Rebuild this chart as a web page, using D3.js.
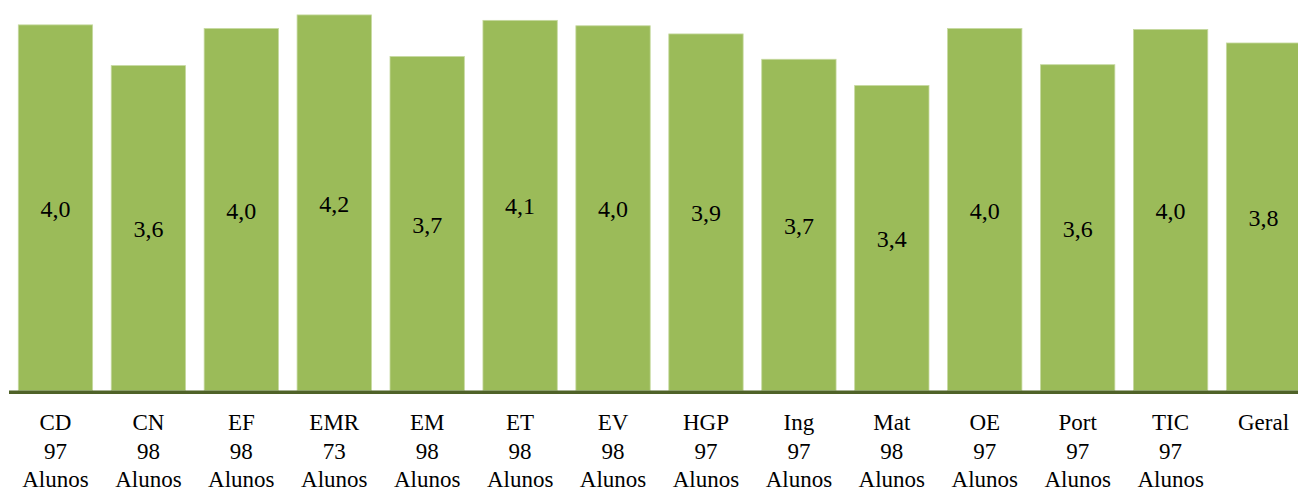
<!DOCTYPE html>
<html lang="pt">
<head>
<meta charset="utf-8">
<title>Média por disciplina</title>
<script src="https://d3js.org/d3.v7.min.js"></script>
<style>
  body { margin: 0; background: #fff; }
  svg text { font-family: "Liberation Serif", "Times New Roman", serif; fill: #000; }
</style>
</head>
<body>
<svg id="chart" width="1298" height="491"></svg>
<script>
// disciplinas
var categories = ["CD", "CN", "EF", "EMR", "EM", "ET", "EV", "HGP", "Ing", "Mat", "OE", "Port", "TIC", "Geral"];
// média (estimada a partir da altura das barras)
var values = [4.04, 3.59, 4.00, 4.15, 3.69, 4.09, 4.03, 3.94, 3.66, 3.37, 4.00, 3.60, 3.99, 3.84];
// número de alunos
var alunos = [97, 98, 98, 73, 98, 98, 98, 97, 97, 98, 97, 97, 97, null];

var svg = d3.select("#chart");

var baseY = 390.5;

var x = d3.scaleBand()
    .domain(categories)
    .range([9, 1310])
    .paddingInner(0.2)
    .paddingOuter(0.1);

var y = d3.scaleLinear()
    .domain([0, 4.3])
    .range([baseY, baseY - 4.3 * 90.5]);

var fmt = function(v) { return d3.format(".1f")(v).replace(".", ","); };

// barras
svg.selectAll("rect.bar")
    .data(values)
    .enter()
    .append("rect")
    .attr("class", "bar")
    .attr("x", function(d, i) { return x(categories[i]); })
    .attr("y", function(d) { return y(d); })
    .attr("width", x.bandwidth())
    .attr("height", function(d) { return y(0) - y(d); })
    .attr("fill", "#9bbb59")
    .attr("stroke", "#c6d9a0")
    .attr("stroke-width", 0.8);

// valores no meio das barras
svg.selectAll("text.val")
    .data(values)
    .enter()
    .append("text")
    .attr("class", "val")
    .attr("x", function(d, i) { return x(categories[i]) + x.bandwidth() / 2; })
    .attr("y", function(d) { return (y(d) + y(0)) / 2 + 9; })
    .attr("text-anchor", "middle")
    .attr("font-size", "24px")
    .text(fmt);

// linha de base
svg.append("line")
    .attr("x1", 9)
    .attr("x2", 1298)
    .attr("y1", baseY + 1.8)
    .attr("y2", baseY + 1.8)
    .attr("stroke", "#4f6228")
    .attr("stroke-width", 3.5);

// rótulos das categorias
var lab = svg.selectAll("text.cat")
    .data(categories)
    .enter()
    .append("text")
    .attr("class", "cat")
    .attr("text-anchor", "middle")
    .attr("font-size", "23px")
    .attr("x", function(d) { return x(d) + x.bandwidth() / 2; })
    .attr("y", 430);

lab.append("tspan")
    .attr("x", function(d) { return x(d) + x.bandwidth() / 2; })
    .text(function(d) { return d; });

lab.filter(function(d, i) { return alunos[i] != null; })
    .append("tspan")
    .attr("x", function(d) { return x(d) + x.bandwidth() / 2; })
    .attr("dy", 28.5)
    .text(function(d) { return alunos[categories.indexOf(d)]; });

lab.filter(function(d, i) { return alunos[i] != null; })
    .append("tspan")
    .attr("x", function(d) { return x(d) + x.bandwidth() / 2; })
    .attr("dy", 28.5)
    .text("Alunos");
</script>
</body>
</html>
